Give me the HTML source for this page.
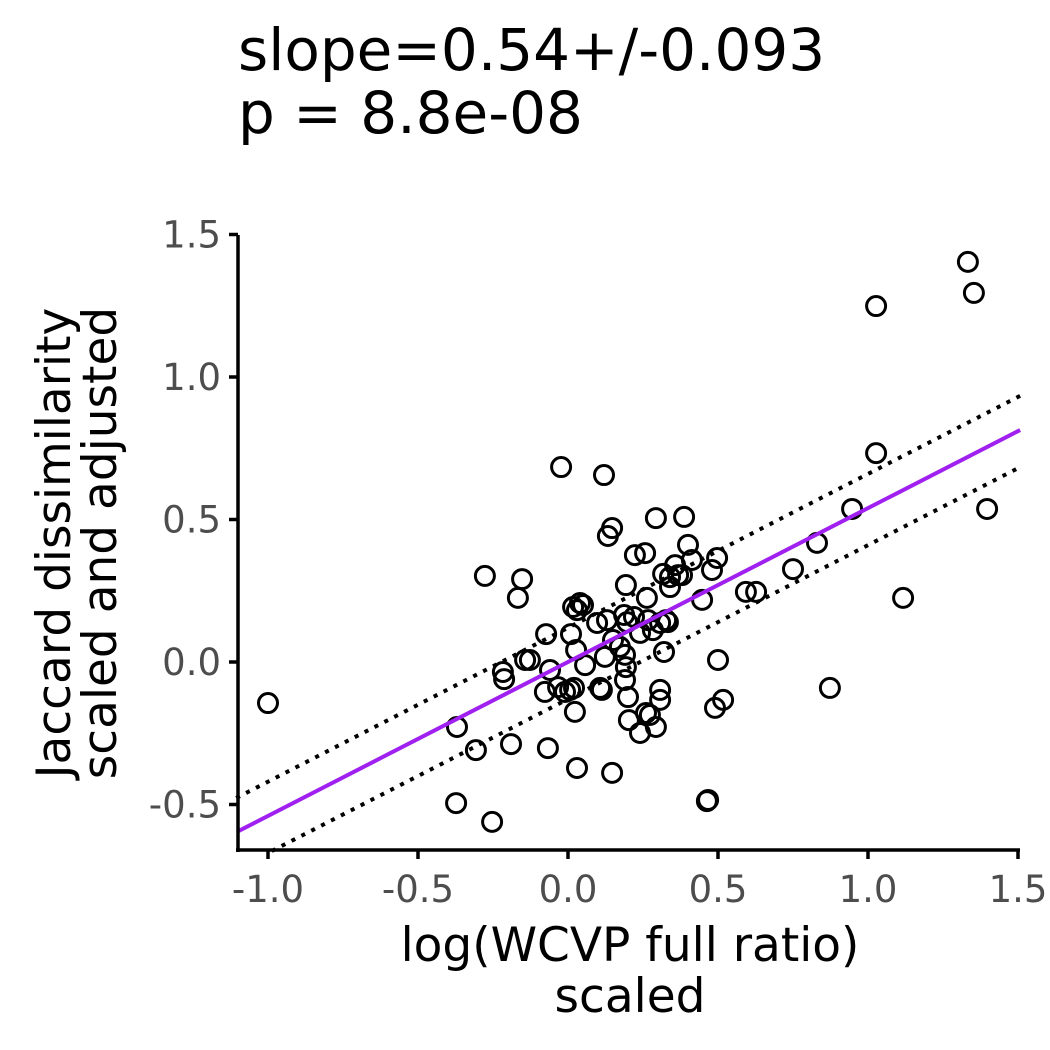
<!DOCTYPE html>
<html><head><meta charset="utf-8"><style>
body{margin:0;background:#fff}
svg{display:block;font-family:"DejaVu Sans","Liberation Sans",sans-serif}
</style></head><body>
<svg id="chart" width="1050" height="1050" viewBox="0 0 1050 1050">
<text x="238" y="70" font-size="58" fill="#000">slope=0.54+/-0.093</text>
<text x="238" y="133" font-size="58" fill="#000">p = 8.8e-08</text>
<g id="plot"></g>
<text x="630" y="961" font-size="47" text-anchor="middle">log(WCVP full ratio)</text>
<text x="630" y="1012" font-size="47" text-anchor="middle">scaled</text>
<g transform="translate(0,543) rotate(-90)">
<text x="0" y="70" font-size="47" text-anchor="middle">Jaccard dissimilarity</text>
<text x="0" y="116" font-size="47" text-anchor="middle">scaled and adjusted</text>
</g>
</svg>
<script>
const xTicks=[-1.0,-0.5,0.0,0.5,1.0,1.5];
const xTickLabels=["-1.0","-0.5","0.0","0.5","1.0","1.5"];
const yTicks=[-0.5,0.0,0.5,1.0,1.5];
const yTickLabels=["-0.5","0.0","0.5","1.0","1.5"];
const slope=0.54, intercept=0.0, ciUpper=0.12, ciLower=-0.13;
const px=[268,457,476,456,492,511,548,577,612,708,485,522,518,561,604,612,608,656,684,876,968,974,876,852,987,903,830,817,793,756,746,717,712,718,702,707,715,723,503,504,525,530,546,545,550,558,565,570,574,575,571,573,577,580,583,576,585,597,602,600,605,607,613,620,626,625,624,627,625,628,629,634,640,635,645,648,653,660,664,660,660,666,663,670,675,678,682,688,692,650,640,656,668,646,670,647,626];
const py=[703,727,750,803,822,744,748,768,773,800,576,579,598,467,475,528,536,518,517,306,262,293,453,509,509,598,688,543,569,592,592,558,570,660,600,801,708,700,672,679,660,660,634,692,670,687,692,690,688,712,634,607,610,603,605,650,665,623,690,688,657,620,640,647,667,680,615,622,655,697,720,617,633,555,553,620,630,623,652,690,700,620,574,577,565,575,575,545,560,715,733,727,622,713,587,598,585];
const xs=px.map(p=>+((p-568)/300).toFixed(3));
const ys=py.map(p=>+((662-p)/285).toFixed(3));
const X=v=>568+v*300, Y=v=>662-v*285;
const NS="http://www.w3.org/2000/svg", g=document.getElementById('plot');
function mk(t,a){const e=document.createElementNS(NS,t);for(const k in a)e.setAttribute(k,a[k]);g.appendChild(e);return e;}
xs.forEach((x,i)=>{const c=mk('circle',{cx:X(x),cy:Y(ys[i]),r:9.5,fill:'none',stroke:'#000','stroke-width':3});

});
const x0=-1.1,x1=1.507,yMin=-0.66;
function clipLine(off,name,attrs){let a=x0;const ya=slope*a+intercept+off;if(ya<yMin)a=(yMin-intercept-off)/slope;
const l=mk('line',Object.assign({x1:X(a),y1:Y(slope*a+intercept+off),x2:X(x1),y2:Y(slope*x1+intercept+off)},attrs));

}
clipLine(ciUpper,'ci-upper-line',{stroke:'#000','stroke-width':4,'stroke-dasharray':'0.1 11','stroke-linecap':'square'});
clipLine(ciLower,'ci-lower-line',{stroke:'#000','stroke-width':4,'stroke-dasharray':'0.1 11','stroke-linecap':'square'});
clipLine(0,'regression-line',{stroke:'#a020f0','stroke-width':4});
const ya=mk('line',{x1:238,y1:235,x2:238,y2:852,stroke:'#000','stroke-width':3.5});


const xa=mk('line',{x1:236,y1:850,x2:1020,y2:850,stroke:'#000','stroke-width':3.5});


yTicks.forEach((v,i)=>{const t=mk('line',{x1:229,y1:Y(v),x2:238,y2:Y(v),stroke:'#000','stroke-width':3.5});


const l=mk('text',{x:221,y:Y(v)+13,'font-size':37,fill:'#4d4d4d','text-anchor':'end'});l.textContent=yTickLabels[i];

});
xTicks.forEach((v,i)=>{const t=mk('line',{x1:X(v),y1:850,x2:X(v),y2:859,stroke:'#000','stroke-width':3.5});


const l=mk('text',{x:X(v),y:902,'font-size':37,fill:'#4d4d4d','text-anchor':'middle'});l.textContent=xTickLabels[i];

});
</script>
</body></html>
